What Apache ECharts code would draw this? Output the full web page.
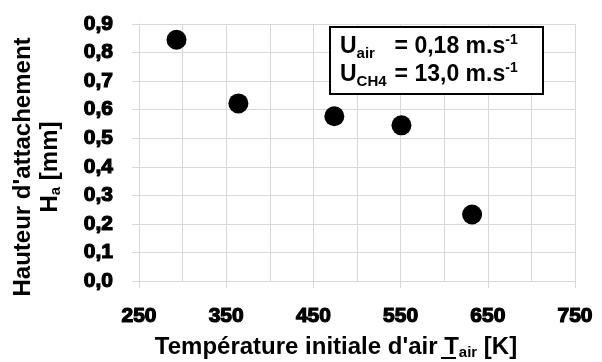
<!DOCTYPE html>
<html>
<head>
<meta charset="utf-8">
<script src="https://cdn.jsdelivr.net/npm/echarts@6/dist/echarts.min.js"></script>
<style>
  html, body { margin: 0; padding: 0; background: #fff; }
  #chart { width: 602px; height: 362px; }
</style>
</head>
<body>
<div id="chart"></div>
<script>
// initial air temperature [K]
const temperatures = [293, 364, 474, 551, 632];
// attachment height H_a [mm]
const heights = [0.845, 0.622, 0.577, 0.545, 0.233];

const xTicks = [250, 350, 450, 550, 650, 750];
const yTicks = [0, 0.1, 0.2, 0.3, 0.4, 0.5, 0.6, 0.7, 0.8, 0.9];

const FONT = '"Liberation Sans", Arial, sans-serif';
const GRID = '#d9d9d9';

// tick labels: bold, thickened with a thin outline of the same colour
const tickLabel = {
  color: '#000',
  fontFamily: FONT,
  fontWeight: 'bold',
  fontSize: 21,
  textBorderColor: '#000',
  textBorderWidth: 1.2
};

const chart = echarts.init(document.getElementById('chart'));

const option = {
  animation: false,
  backgroundColor: '#fff',
  grid: { left: 139, right: 27, top: 24, bottom: 81 },
  xAxis: {
    type: 'value',
    min: xTicks[0],
    max: xTicks[xTicks.length - 1],
    interval: 100,
    axisLine: { show: true, lineStyle: { color: GRID, width: 1 } },
    axisTick: { show: true, length: 7, lineStyle: { color: GRID } },
    axisLabel: Object.assign({ margin: 25 }, tickLabel),
    splitLine: { show: true, lineStyle: { color: GRID, width: 1 } },
    minorTick: { show: false, splitNumber: 2 },
    minorSplitLine: { show: true, lineStyle: { color: GRID, width: 1 } }
  },
  yAxis: {
    type: 'value',
    min: yTicks[0],
    max: yTicks[yTicks.length - 1],
    interval: 0.1,
    axisLine: { show: true, lineStyle: { color: GRID, width: 1 } },
    axisTick: { show: true, length: 7, lineStyle: { color: GRID } },
    axisLabel: Object.assign({
      margin: 26,
      formatter: v => v.toFixed(1).replace('.', ',')
    }, tickLabel),
    splitLine: { show: true, lineStyle: { color: GRID, width: 1 } }
  },
  series: [{
    type: 'scatter',
    symbol: 'circle',
    symbolSize: 20,
    itemStyle: { color: '#000', opacity: 1 },
    data: temperatures.map((t, i) => [t, heights[i]])
  }],
  graphic: [
    // y axis title (two lines, rotated)
    {
      type: 'text',
      x: 23, y: 167,
      rotation: Math.PI / 2,
      style: {
        text: "Hauteur d'attachement",
        fill: '#000',
        font: 'bold 24px ' + FONT,
        align: 'center',
        verticalAlign: 'middle'
      }
    },
    {
      type: 'text',
      x: 50, y: 167,
      rotation: Math.PI / 2,
      style: {
        text: '{m|H}{s|a}{m| [mm]}',
        align: 'center',
        verticalAlign: 'middle',
        rich: {
          m: { font: 'bold 24px ' + FONT, fill: '#000', lineHeight: 26 },
          s: { font: 'bold 15px ' + FONT, fill: '#000', lineHeight: 8, verticalAlign: 'bottom' }
        }
      }
    },
    // x axis title
    {
      type: 'text',
      x: 336, y: 347,
      style: {
        text: "{m|Température initiale d'air T}{s|air}{m| [K]}",
        align: 'center',
        verticalAlign: 'middle',
        rich: {
          m: { font: 'bold 24px ' + FONT, fill: '#000', lineHeight: 26 },
          s: { font: 'bold 15px ' + FONT, fill: '#000', lineHeight: 8, verticalAlign: 'bottom' }
        }
      }
    },
    // underline under T
    {
      type: 'line',
      shape: { x1: 441, y1: 358, x2: 456, y2: 358 },
      style: { stroke: '#000', lineWidth: 2 }
    },
    // legend box
    {
      type: 'rect',
      shape: { x: 330, y: 27, width: 213, height: 67 },
      style: { fill: '#fff', stroke: '#000', lineWidth: 2 },
      z: 10
    },
    {
      type: 'text',
      x: 340, y: 61,
      z: 11,
      style: {
        text: '{u|U}{s|air}{e|= 0,18 m.s}{p|-1}\n{u|U}{s|CH4}{e|= 13,0 m.s}{p|-1}',
        align: 'left',
        verticalAlign: 'middle',
        rich: {
          u: { font: 'bold 23px ' + FONT, fill: '#000', lineHeight: 28 },
          e: { font: 'bold 23px ' + FONT, fill: '#000', lineHeight: 28 },
          s: { font: 'bold 15px ' + FONT, fill: '#000', lineHeight: 8, verticalAlign: 'bottom', width: 38 },
          p: { font: 'bold 14px ' + FONT, fill: '#000', lineHeight: 10, verticalAlign: 'top' }
        }
      }
    }
  ]
};

chart.setOption(option);
</script>
</body>
</html>
